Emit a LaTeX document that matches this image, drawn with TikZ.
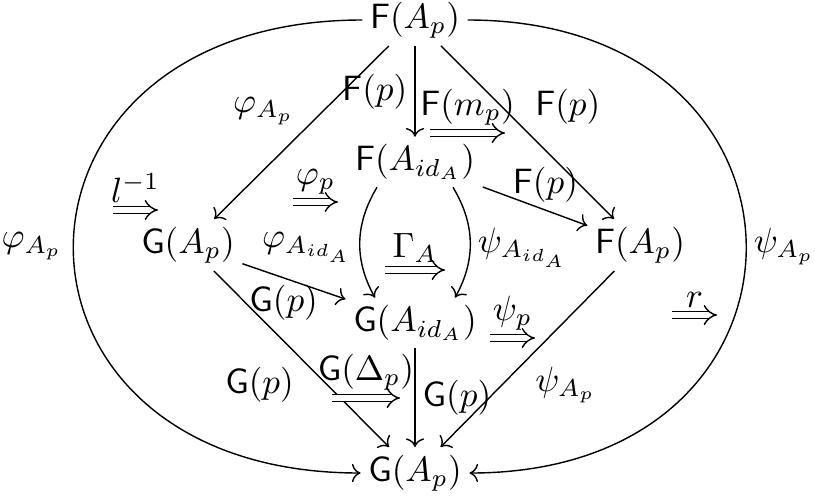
\documentclass[tikz,border=0pt]{standalone}
\usepackage{amsmath,amssymb}
\usepackage{tikz}
\usetikzlibrary{arrows.meta,positioning,calc}

\begin{document}
\begin{tikzpicture}[
  twocell/.style={double, double distance=1.6pt, -{Implies[]}},
  every node/.style={inner sep=2pt}]
\useasboundingbox (0,0) rectangle (8.15,4.96);

% objects
\node (top) at (4.15,4.76) {$\mathsf{F}(A_p)$};
\node (gl)  at (1.88,2.51) {$\mathsf{G}(A_p)$};
\node (fid) at (4.15,3.34) {$\mathsf{F}(A_{id_A})$};
\node (fr)  at (6.40,2.51) {$\mathsf{F}(A_p)$};
\node (gid) at (4.15,1.73) {$\mathsf{G}(A_{id_A})$};
\node (bot) at (4.15,0.23) {$\mathsf{G}(A_p)$};

% outer arcs
\draw[->] (top.west) .. controls +(-3.84,0) and +(-3.84,0) .. node[midway,left=1pt] {$\varphi_{A_p}$} (bot.west);
\draw[->] (top.east) .. controls +(3.7,0) and +(3.7,0) .. node[midway,right=0pt] {$\psi_{A_p}$} (bot.east);

% arrows
\draw[->] (top) -- node[pos=0.5,above left] {$\varphi_{A_p}$} (gl);
\draw[->] (top) -- node[midway,left] {$\mathsf{F}(p)$} (fid);
\draw[->] (top) -- node[pos=0.5,above right] {$\mathsf{F}(p)$} (fr);
\draw[->] (fid) -- node[pos=0.6,above] {$\mathsf{F}(p)$} (fr);
\draw[->] (gl) -- node[pos=0.4,below] {$\mathsf{G}(p)$} (gid);
\draw[->] (gl) -- node[midway,below left] {$\mathsf{G}(p)$} (bot);
\draw[->] (gid) -- node[midway,right] {$\mathsf{G}(p)$} (bot);
\draw[->] (fr) -- node[midway,below right] {$\psi_{A_p}$} (bot);
\draw[->] ([xshift=-0.38cm]fid.south) to[bend right=30] node[pos=0.55,left] {$\varphi_{A_{id_A}}$} ([xshift=-0.4cm]gid.north);
\draw[->] ([xshift=0.38cm]fid.south) to[bend left=30] node[pos=0.55,right] {$\psi_{A_{id_A}}$} ([xshift=0.4cm]gid.north);

% 2-cells
\coordinate (c1) at (1.13,2.86);
\coordinate (c2) at (2.93,2.94);
\coordinate (c3) at (4.30,3.63);
\coordinate (c4) at (3.85,2.26);
\coordinate (c5) at (4.90,1.58);
\coordinate (c6) at (3.32,0.98);
\coordinate (c7) at (6.72,1.81);
\draw[twocell] (c1) -- node[above] {$l^{-1}$} ++(0.45,0);
\draw[twocell] (c2) -- node[above] {$\varphi_p$} ++(0.45,0);
\draw[twocell] (c3) -- node[above] {$\mathsf{F}(m_p)$} ++(0.75,0);
\draw[twocell] (c4) -- node[above] {$\Gamma_A$} ++(0.60,0);
\draw[twocell] (c5) -- node[above] {$\psi_p$} ++(0.45,0);
\draw[twocell] (c6) -- node[above] {$\mathsf{G}(\Delta_p)$} ++(0.68,0);
\draw[twocell] (c7) -- node[above] {$r$} ++(0.45,0);

\end{tikzpicture}
\end{document}
